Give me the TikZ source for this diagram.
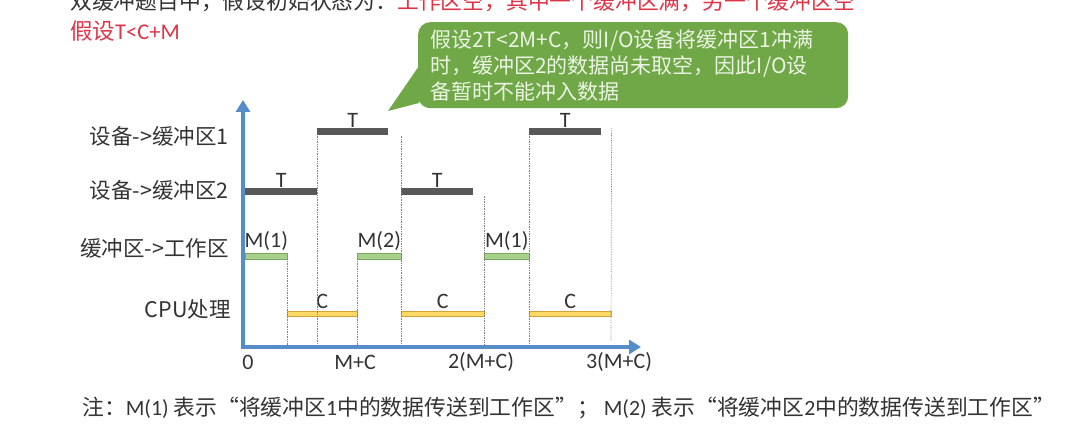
\documentclass[tikz,border=0pt]{standalone}
\usepackage{fontspec}
\setmainfont{Carlito}
\newfontfamily\cjk{Noto Sans CJK SC}
\usepackage{tikz}
\usetikzlibrary{positioning,calc,arrows.meta}

\definecolor{axisblue}{RGB}{84,141,200}
\definecolor{devgray}{RGB}{88,88,88}
\definecolor{bufgreen}{RGB}{169,209,142}
\definecolor{bufedge}{RGB}{120,170,90}
\definecolor{cpuyellow}{RGB}{255,217,102}
\definecolor{cpuedge}{RGB}{214,160,60}
\definecolor{notegreen}{RGB}{112,168,72}
\definecolor{notetext}{RGB}{236,244,228}
\definecolor{hintred}{RGB}{222,52,72}
\definecolor{textgray}{RGB}{51,51,51}

\begin{document}
\begin{tikzpicture}[x=1pt, y=-1pt,
  axis/.style={line width=4pt, axisblue, -{Triangle[length=12pt, width=14pt]}},
  devbar/.style={fill=devgray, inner sep=0pt, minimum height=7pt, anchor=west},
  bufbar/.style={fill=bufgreen, draw=bufedge, line width=0.6pt, inner sep=0pt, minimum height=6pt, anchor=west},
  cpubar/.style={fill=cpuyellow, draw=cpuedge, line width=0.6pt, inner sep=0pt, minimum height=5pt, anchor=west},
  guide/.style={densely dotted, gray, line width=0.7pt},
  lbl/.style={font=\fontsize{22}{24}\selectfont, text=textgray, inner sep=1pt},
  rowlbl/.style={font=\fontsize{21.5}{24}\selectfont\cjk, text=textgray, anchor=east, inner sep=0pt}]
  \useasboundingbox (0,0) rectangle (1079,427);

  % Heading lines
  \node[anchor=west, inner sep=0pt, font=\fontsize{21.8}{23}\selectfont\cjk] (intro) at (70,1)
    {\textcolor{textgray}{双缓冲题目中，假设初始状态为：}\textcolor{hintred}{工作区空，其中一个缓冲区满，另一个缓冲区空}};
  \node[anchor=west, inner sep=0pt, text=hintred, font=\fontsize{22.5}{24}\selectfont] (assume) at (70,31)
    {{\cjk 假设}T<C+M};

  % Row labels
  \node[rowlbl] (row1) at (229,136) {设备->缓冲区1};
  \node[rowlbl] (row2) at (229,190) {设备->缓冲区2};
  \node[rowlbl] (row3) at (229,248) {缓冲区->工作区};
  \node[rowlbl] (row4) at (231,309) {CPU处理};

  % Axes
  \coordinate (origin) at (243,347);
  \coordinate (ytop) at (243,100);
  \coordinate (xend) at (641,347);
  \draw[axis] ([yshift=-2pt]origin) -- (ytop);
  \draw[axis] ([xshift=-2pt]origin) -- (xend);
  \node[lbl, anchor=center] (t0) at (248,362) {0};
  \node[lbl, anchor=center] (t1) at (355,362) {M+C};
  \node[lbl, anchor=center] (t2) at (481,362) {2(M+C)};
  \node[lbl, anchor=center] (t3) at (619,362) {3(M+C)};

  % Device -> buffer 1 / buffer 2
  \node[devbar, minimum width=71pt] (d1a) at (317,132) {};
  \node[devbar, minimum width=72pt] (d1b) at (529,132) {};
  \node[devbar, minimum width=72pt] (d2a) at (245,192) {};
  \node[devbar, minimum width=72pt] (d2b) at (401,192) {};
  \node[lbl, above=0pt of d1a] {T};
  \node[lbl, above=0pt of d1b] {T};
  \node[lbl, above=0pt of d2a] {T};
  \node[lbl, above=0pt of d2b] {T};

  % Buffer -> work area
  \node[bufbar, minimum width=42pt] (m1a) at (245,256) {};
  \node[bufbar, minimum width=44pt] (m2a) at (357,256) {};
  \node[bufbar, minimum width=45pt] (m1b) at (484,256) {};
  \node[lbl, above=1pt of m1a] {M(1)};
  \node[lbl, above=1pt of m2a] {M(2)};
  \node[lbl, above=1pt of m1b] {M(1)};

  % CPU
  \node[cpubar, minimum width=70pt] (c1) at (287,314) {};
  \node[cpubar, minimum width=83pt] (c2) at (401,314) {};
  \node[cpubar, minimum width=82pt] (c3) at (529,314) {};
  \node[lbl, above=1pt of c1] {C};
  \node[lbl, above=1pt of c2] {C};
  \node[lbl, above=1pt of c3] {C};

  % Time marks
  \draw[guide] (m1a.south east) -- (m1a.south east |- origin);
  \draw[guide] (d1a.south west) -- (d1a.south west |- origin);
  \draw[guide] (m2a.south west) -- (m2a.south west |- origin);
  \draw[guide] (d2b.west |- d1a.south) -- (d2b.west |- origin);
  \draw[guide] (m1b.west |- d2b.south) -- (m1b.west |- origin);
  \draw[guide] (d1b.south west) -- (d1b.south west |- origin);
  \coordinate (lastend) at (611,341);
  \draw[guide] (c3.east |- d1b.north) -- (lastend);

  % Callout
  \node[anchor=north west, fill=notegreen, rounded corners=12pt, minimum height=86pt,
        inner xsep=12pt, inner ysep=5pt, text width=406pt, align=left, text=notetext,
        font=\fontsize{21}{26}\selectfont\cjk] (hint) at (418,22)
    {假设2T<2M+C，则I/O设备将缓冲区1冲满\\时，缓冲区2的数据尚未取空，因此I/O设\\备暂时不能冲入数据};
  \coordinate (p1) at (419,66);
  \coordinate (p2) at (419,103);
  \coordinate (tip) at (388,111);
  \fill[notegreen] (p1) -- (tip) -- (p2) -- cycle;

  % Note
  \node[anchor=west, inner sep=0pt, text=textgray, font=\fontsize{21.8}{24}\selectfont] (note) at (82,408)
    {{\cjk 注：}M(1) {\cjk 表示“将缓冲区}1{\cjk 中的数据传送到工作区”；} M(2) {\cjk 表示“将缓冲区}2{\cjk 中的数据传送到工作区”}};
\end{tikzpicture}
\end{document}
